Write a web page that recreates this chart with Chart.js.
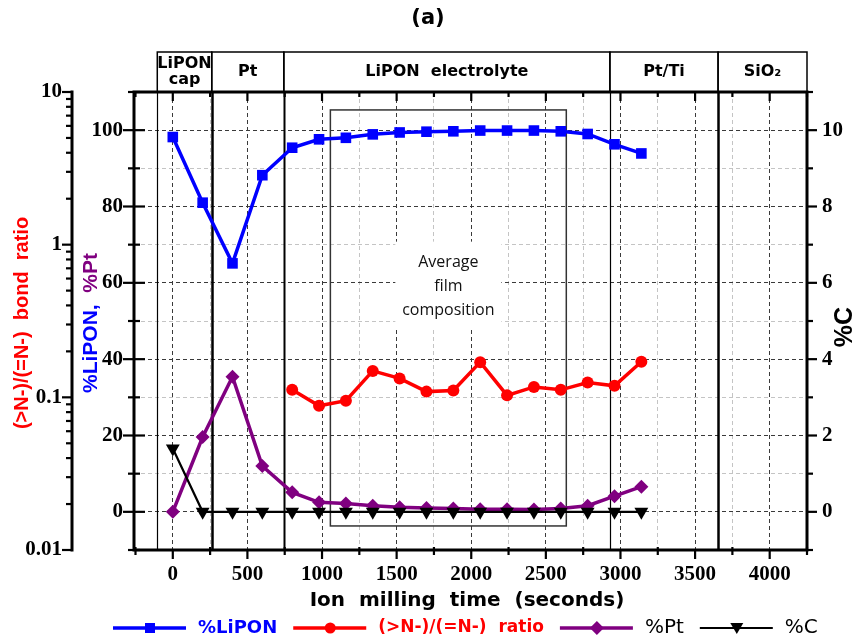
<!DOCTYPE html>
<html>
<head>
<meta charset="utf-8">
<script src="https://cdn.jsdelivr.net/npm/chart.js@4/dist/chart.umd.min.js"></script>
<style>
  html, body { margin: 0; padding: 0; background: #fff; }
  #wrap { width: 857px; height: 638px; }
</style>
</head>
<body>
<div id="wrap"><canvas id="c" width="857" height="638"></canvas></div>
<script>
// Ion milling time of each depth-profile step (s)
const millTimes = [0, 200, 400, 600, 800, 980, 1160, 1340, 1520, 1700, 1880, 2060, 2240, 2420, 2600, 2780, 2960, 3140];
// %LiPON at each step
const liponPct = [98.2, 81.0, 65.1, 88.2, 95.4, 97.6, 98.0, 98.9, 99.4, 99.6, 99.7, 99.9, 99.9, 99.9, 99.7, 99.0, 96.3, 93.9];
// (>N-)/(=N-) bond ratio, measured from 800 s on
const ratioTimes = [800, 980, 1160, 1340, 1520, 1700, 1880, 2060, 2240, 2420, 2600, 2780, 2960, 3140];
const bondRatio = [0.112, 0.088, 0.095, 0.149, 0.133, 0.109, 0.111, 0.170, 0.103, 0.117, 0.112, 0.125, 0.119, 0.171];
// %Pt at each step
const ptPct = [0, 19.6, 35.4, 12.0, 5.1, 2.5, 2.2, 1.6, 1.2, 1.0, 0.9, 0.7, 0.7, 0.6, 0.9, 1.6, 4.1, 6.6];
// %C at each step (right axis)
const cPct = [1.66, 0, 0, 0, 0, 0, 0, 0, 0, 0, 0, 0, 0, 0, 0, 0, 0, 0];

// layers of the stack and the milling times where they meet (s)
const layerNames = [['LiPON', 'cap'], ['Pt'], ['LiPON  electrolyte'], ['Pt/Ti'], ['SiO\u2082']];
const layerEdges = [-104, 261, 744, 2929, 3654, 4250];
// window used for the average film composition (s, %)
const avgWindow = [1056, 2637];
const avgSpan = [-3.7, 105.3];

// tick values and labels
const timeTicks = [-250, 0, 250, 500, 750, 1000, 1250, 1500, 1750, 2000, 2250, 2500, 2750, 3000, 3250, 3500, 3750, 4000, 4250];
const timeLabels = ['0', '500', '1000', '1500', '2000', '2500', '3000', '3500', '4000'];
const pctTicks = [-10, 0, 10, 20, 30, 40, 50, 60, 70, 80, 90, 100, 110];
const pctLabels = ['0', '20', '40', '60', '80', '100'];
const cTicks = [-1, 0, 1, 2, 3, 4, 5, 6, 7, 8, 9, 10, 11];
const cLabels = ['0', '2', '4', '6', '8', '10'];
const ratioLabels = ['0.01', '0.1', '1', '10'];
const ratioTicks = [];
for (let e = -2; e <= 0; e++) for (let k = 1; k <= 9; k++) ratioTicks.push(k * Math.pow(10, e));
ratioTicks.push(10);

const BLUE = '#0000ff', RED = '#ff0000', PURPLE = '#800080', BLACK = '#000000';
const DARK_GRID = '#3a3a3a', LIGHT_GRID = '#c4c4c4';

const pts = (xs, ys) => xs.map((t, i) => ({ x: t, y: ys[i] }));
const tickFont = { family: 'Liberation Serif', weight: 'bold', size: 21 };
const fixTicks = list => scale => { scale.ticks = list.map(v => ({ value: v })); };
const pick = labels => v => (labels.includes(String(v)) ? String(v) : '');

const overlay = {
  id: 'overlay',
  beforeDatasetsDraw(chart) {
    const { ctx, chartArea: a, scales: { x, y } } = chart;
    ctx.save();
    // averaging window with its caption
    const bx1 = x.getPixelForValue(avgWindow[0]);
    const bx2 = x.getPixelForValue(avgWindow[1]);
    const by1 = y.getPixelForValue(avgSpan[1]);
    const by2 = y.getPixelForValue(avgSpan[0]);
    const cx = (bx1 + bx2) / 2;
    const cy = y.getPixelForValue(59);
    ctx.fillStyle = '#fff';
    ctx.fillRect(cx - 53, cy - 45, 106, 88);
    ctx.strokeStyle = '#333';
    ctx.lineWidth = 1.5;
    ctx.strokeRect(bx1, by1, bx2 - bx1, by2 - by1);
    ctx.fillStyle = '#111';
    ctx.font = '16px "Open Sans"';
    ctx.textAlign = 'center';
    ctx.textBaseline = 'middle';
    ['Average', 'film', 'composition'].forEach((s, i) => ctx.fillText(s, cx, cy - 24 + i * 24));
    // layer boundaries
    const widths = [1.2, 2.5, 2, 1.2, 2.5];
    ctx.strokeStyle = BLACK;
    for (let i = 0; i < layerEdges.length - 1; i++) {
      const px = Math.round(x.getPixelForValue(layerEdges[i])) + 0.5;
      ctx.lineWidth = widths[i];
      ctx.beginPath();
      ctx.moveTo(px, a.top);
      ctx.lineTo(px, a.bottom);
      ctx.stroke();
    }
    ctx.restore();
  },
  afterDatasetsDraw(chart) {
    const { ctx, chartArea: a, scales: { x, y, yC, yLog } } = chart;
    ctx.save();
    ctx.strokeStyle = BLACK;
    // frame
    ctx.lineWidth = 3;
    ctx.strokeRect(a.left, a.top, a.right - a.left, a.bottom - a.top);
    // outer ratio axis line
    const lx = yLog.right;
    ctx.beginPath();
    ctx.moveTo(lx, a.top - 1.5);
    ctx.lineTo(lx, a.bottom + 1.5);
    ctx.stroke();
    ctx.lineWidth = 2.2;
    const seg = (x1, y1, x2, y2) => { ctx.beginPath(); ctx.moveTo(x1, y1); ctx.lineTo(x2, y2); ctx.stroke(); };
    // time ticks, top and bottom
    timeTicks.forEach(t => {
      const px = x.getPixelForValue(t);
      const major = t % 500 === 0;
      seg(px, a.top, px, a.top + (major ? 9 : 5));
      if (major) seg(px, a.bottom, px, a.bottom + 9);
      else seg(px, a.bottom - 3, px, a.bottom + 5);
    });
    // % ticks crossing the inner left axis
    pctTicks.forEach(v => {
      const py = y.getPixelForValue(v);
      const major = v % 20 === 0;
      seg(a.left - (major ? 11 : 6), py, a.left + (major ? 11 : 6), py);
    });
    // %C ticks on the right axis
    cTicks.forEach(v => {
      const py = yC.getPixelForValue(v);
      const major = v % 2 === 0;
      seg(a.right, py, a.right + (major ? 10 : 6), py);
    });
    // ratio ticks on the outer left axis
    ratioTicks.forEach(v => {
      const py = yLog.getPixelForValue(v);
      const l = Math.log10(v);
      const major = Math.abs(l - Math.round(l)) < 1e-9;
      seg(lx, py, lx - (major ? 10 : 6), py);
    });
    ctx.restore();
  },
  afterDraw(chart) {
    const { ctx, chartArea: a, scales: { x } } = chart;
    ctx.save();
    ctx.textAlign = 'center';
    ctx.textBaseline = 'middle';
    // title
    ctx.fillStyle = BLACK;
    ctx.font = 'bold 21px "DejaVu Sans"';
    ctx.fillText('(a)', 428, 19);
    // layer header boxes
    const top = 52;
    ctx.strokeStyle = BLACK;
    ctx.lineWidth = 1.5;
    ctx.font = 'bold 16px "DejaVu Sans"';
    for (let i = 0; i < layerNames.length; i++) {
      const x1 = x.getPixelForValue(layerEdges[i]);
      const x2 = x.getPixelForValue(layerEdges[i + 1]);
      ctx.strokeRect(x1, top, x2 - x1, a.top - top);
      const lines = layerNames[i];
      const mid = (top + a.top) / 2;
      lines.forEach((s, j) => ctx.fillText(s, (x1 + x2) / 2, mid + (j - (lines.length - 1) / 2) * 15.5));
    }
    // x axis title
    ctx.font = 'bold 20px "DejaVu Sans"';
    ctx.fillText('Ion  milling  time  (seconds)', 467, 601);
    // rotated axis titles
    const vtext = (parts, cxp, cyp, font) => {
      ctx.save();
      ctx.translate(cxp, cyp);
      ctx.rotate(-Math.PI / 2);
      ctx.font = font;
      ctx.textAlign = 'left';
      const total = parts.reduce((s, p) => s + ctx.measureText(p[0]).width, 0);
      let pos = -total / 2;
      parts.forEach(p => { ctx.fillStyle = p[1]; ctx.fillText(p[0], pos, 0); pos += ctx.measureText(p[0]).width; });
      ctx.restore();
    };
    vtext([['(>N-)/(=N-)  bond  ratio', RED]], 22, 323, 'bold 20px "Liberation Sans"');
    vtext([['%LiPON,  ', BLUE], ['%Pt', PURPLE]], 91, 323, 'bold 21px "Liberation Sans"');
    vtext([['%C', BLACK]], 845, 327, 'bold 25px "Liberation Sans"');
    // legend
    const ly = 628;
    const items = [
      { label: '%LiPON', color: BLUE, text: BLUE, font: 'bold 18px "DejaVu Sans"', marker: 'square' },
      { label: '(>N-)/(=N-)  ratio', color: RED, text: RED, font: 'bold 17px "DejaVu Sans"', marker: 'circle' },
      { label: '%Pt', color: PURPLE, text: BLACK, font: '20px "DejaVu Sans"', marker: 'diamond' },
      { label: '%C', color: BLACK, text: BLACK, font: '20px "DejaVu Sans"', marker: 'triangle' }
    ];
    let lx = 113;
    items.forEach(it => {
      ctx.strokeStyle = it.color;
      ctx.fillStyle = it.color;
      ctx.lineWidth = it.color === BLACK ? 2 : 3.5;
      ctx.beginPath(); ctx.moveTo(lx, ly); ctx.lineTo(lx + 73, ly); ctx.stroke();
      const mx = lx + 37;
      ctx.beginPath();
      if (it.marker === 'square') ctx.rect(mx - 5, ly - 5, 10, 10);
      else if (it.marker === 'circle') ctx.arc(mx, ly, 5.5, 0, Math.PI * 2);
      else if (it.marker === 'diamond') { ctx.moveTo(mx, ly - 7); ctx.lineTo(mx + 7, ly); ctx.lineTo(mx, ly + 7); ctx.lineTo(mx - 7, ly); ctx.closePath(); }
      else { ctx.moveTo(mx - 6.5, ly - 5); ctx.lineTo(mx + 6.5, ly - 5); ctx.lineTo(mx, ly + 6); ctx.closePath(); }
      ctx.fill();
      ctx.font = it.font;
      ctx.fillStyle = it.text;
      ctx.textAlign = 'left';
      ctx.fillText(it.label, lx + 85, ly);
      lx += 85 + ctx.measureText(it.label).width + 16;
    });
    ctx.restore();
  }
};

const gridColor = (major, edge) => ctx => {
  const v = ctx.tick ? ctx.tick.value : null;
  if (v === null || edge(v)) return 'rgba(0,0,0,0)';
  return major(v) ? DARK_GRID : LIGHT_GRID;
};

new Chart(document.getElementById('c'), {
  type: 'line',
  data: {
    datasets: [
      {
        label: '%C', yAxisID: 'yC', data: pts(millTimes, cPct),
        borderColor: BLACK, backgroundColor: BLACK, borderWidth: 2.2,
        pointStyle: 'triangle', rotation: 180, pointRadius: 8, pointBorderWidth: 0
      },
      {
        label: '%Pt', yAxisID: 'y', data: pts(millTimes, ptPct),
        borderColor: PURPLE, backgroundColor: PURPLE, borderWidth: 3.5,
        pointStyle: 'rectRot', pointRadius: 7, pointBorderWidth: 0
      },
      {
        label: '(>N-)/(=N-) ratio', yAxisID: 'yLog', data: pts(ratioTimes, bondRatio),
        borderColor: RED, backgroundColor: RED, borderWidth: 3.5,
        pointStyle: 'circle', pointRadius: 6, pointBorderWidth: 0
      },
      {
        label: '%LiPON', yAxisID: 'y', data: pts(millTimes, liponPct),
        borderColor: BLUE, backgroundColor: BLUE, borderWidth: 3.5,
        pointStyle: 'rect', pointRadius: 7.5, pointBorderWidth: 0
      }
    ]
  },
  options: {
    responsive: false,
    animation: false,
    layout: { padding: { top: 92, left: 0, right: 0, bottom: 0 } },
    plugins: { legend: { display: false }, tooltip: { enabled: false }, title: { display: false } },
    elements: { line: { tension: 0 } },
    scales: {
      x: {
        type: 'linear', position: 'bottom', min: -260, max: 4250,
        afterBuildTicks: fixTicks(timeTicks),
        afterFit: s => { s.height = 88; },
        ticks: { callback: pick(timeLabels), font: tickFont, color: BLACK, padding: 12, autoSkip: false, maxRotation: 0 },
        grid: { drawTicks: false, lineWidth: 1, color: gridColor(v => v % 500 === 0, v => v <= -250 || v >= 4250), borderDash: [4, 3] },
        border: { display: false, dash: [4, 3] }
      },
      yLog: {
        type: 'logarithmic', position: 'left', weight: 2, min: 0.01, max: 10,
        afterBuildTicks: fixTicks(ratioTicks),
        afterFit: s => { s.width = 72; },
        ticks: { callback: pick(ratioLabels), font: tickFont, color: BLACK, padding: 10, autoSkip: false },
        grid: { display: false, drawTicks: false },
        border: { display: false }
      },
      y: {
        type: 'linear', position: 'left', weight: 1, min: -10, max: 110,
        afterBuildTicks: fixTicks(pctTicks),
        afterFit: s => { s.width = 62; },
        ticks: { callback: pick(pctLabels), font: tickFont, color: BLACK, padding: 11, autoSkip: false },
        grid: { drawTicks: false, lineWidth: 1, color: gridColor(v => v % 20 === 0, v => v <= -10 || v >= 110), borderDash: [4, 3] },
        border: { display: false, dash: [4, 3] }
      },
      yC: {
        type: 'linear', position: 'right', min: -1, max: 11,
        afterBuildTicks: fixTicks(cTicks),
        afterFit: s => { s.width = 50; },
        ticks: { callback: pick(cLabels), font: tickFont, color: BLACK, padding: 15, autoSkip: false },
        grid: { display: false, drawTicks: false },
        border: { display: false }
      }
    }
  },
  plugins: [overlay]
});
</script>
</body>
</html>
